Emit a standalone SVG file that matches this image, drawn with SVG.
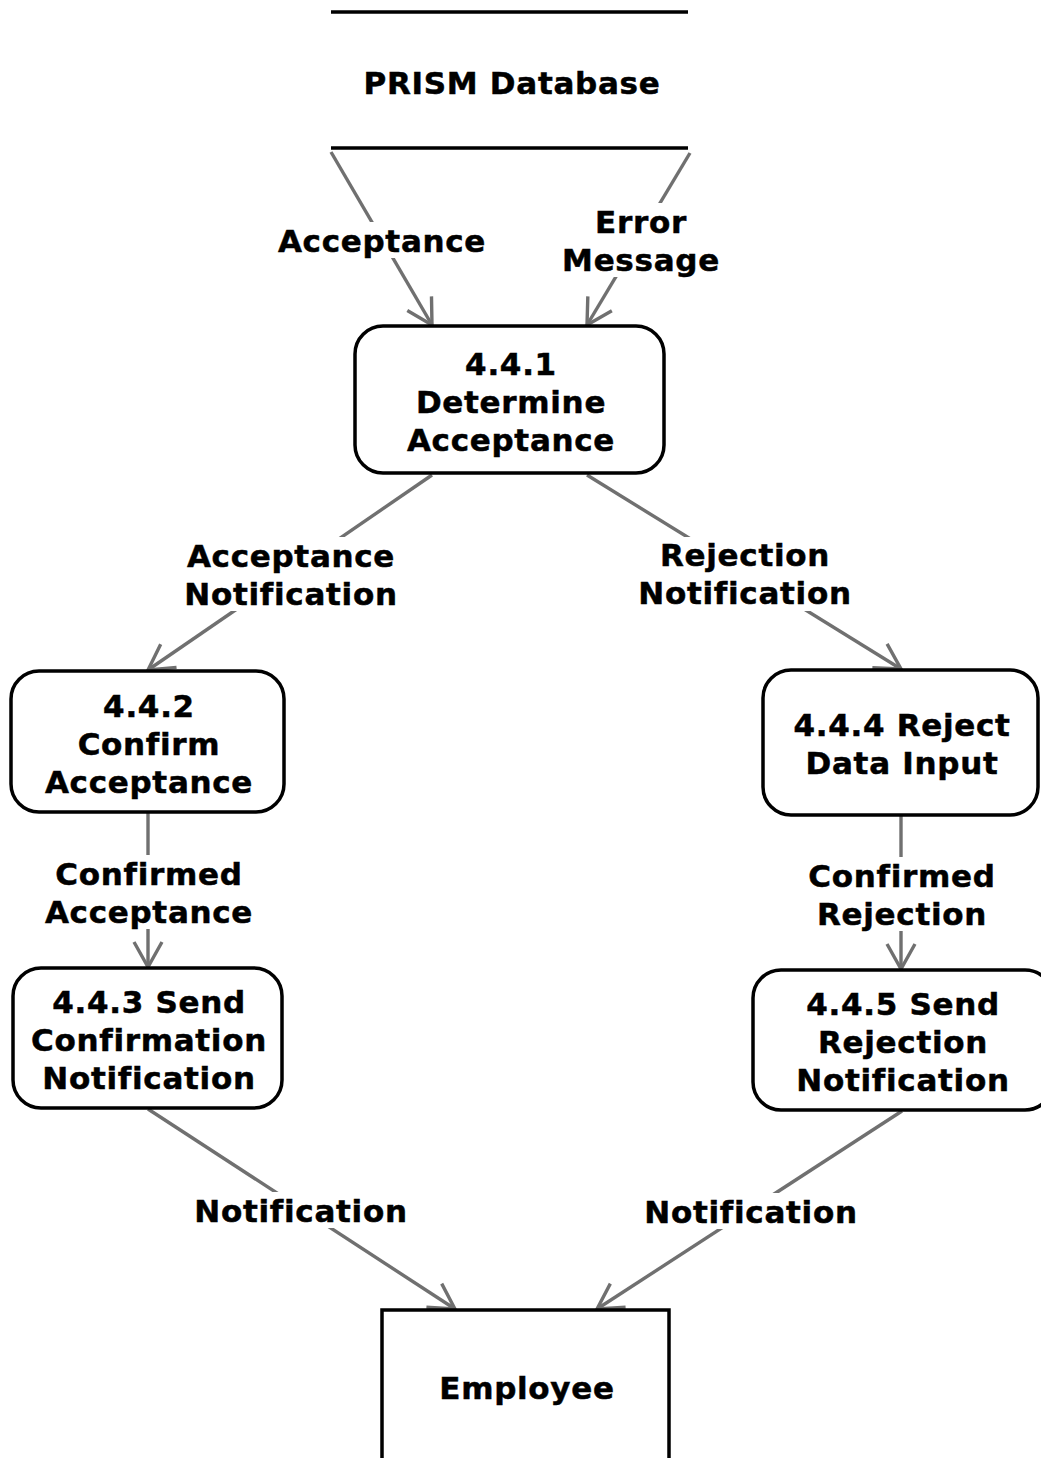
<svg xmlns="http://www.w3.org/2000/svg" width="1041" height="1458" viewBox="0 0 1041 1458">
  <style>
    text { font-family: "DejaVu Sans", Verdana, sans-serif; font-weight: bold; font-size: 31px; letter-spacing: 0.7px; text-anchor: middle; fill: #000; stroke: #000; stroke-width: 0.5px; }
    .box { fill: #fff; stroke: #000; stroke-width: 3.5; }
    .edge { fill: none; stroke: #707070; stroke-width: 3.4; marker-end: url(#arrow); }
    .gap { fill: #fff; }
  </style>
  <defs>
    <marker id="arrow" markerUnits="userSpaceOnUse" markerWidth="44" markerHeight="44" viewBox="-34 -22 44 44" refX="0" refY="0" orient="auto">
      <path d="M -25 -14 L 0 0 L -25 14" fill="none" stroke="#707070" stroke-width="3.4"/>
    </marker>
  </defs>

  <rect width="1041" height="1458" fill="#fff"/>

  <!-- connectors -->
  <g id="connectors">
    <line class="edge" x1="331" y1="152" x2="432" y2="325"/>
    <line class="edge" x1="690" y1="153" x2="587" y2="325"/>
    <line class="edge" x1="432" y1="475" x2="148" y2="670"/>
    <line class="edge" x1="587" y1="475" x2="901" y2="669"/>
    <line class="edge" x1="148" y1="813" x2="148" y2="967"/>
    <line class="edge" x1="901" y1="816" x2="901" y2="969"/>
    <line class="edge" x1="148" y1="1109" x2="455" y2="1309"/>
    <line class="edge" x1="902" y1="1111" x2="597" y2="1309"/>

    <!-- label backgrounds interrupt the lines -->
    <rect class="gap" x="275" y="222" width="214" height="36"/>
    <rect class="gap" x="560" y="203" width="160" height="74"/>
    <rect class="gap" x="182" y="537" width="218" height="74"/>
    <rect class="gap" x="636" y="537" width="218" height="74"/>
    <rect class="gap" x="40" y="855" width="216" height="74"/>
    <rect class="gap" x="803" y="857" width="196" height="74"/>
    <rect class="gap" x="192" y="1192" width="218" height="36"/>
    <rect class="gap" x="641" y="1193" width="218" height="36"/>

    <text x="382" y="252">Acceptance</text>
    <text x="641" y="233">Error</text>
    <text x="641" y="271">Message</text>
    <text x="291" y="567">Acceptance</text>
    <text x="291" y="605">Notification</text>
    <text x="745" y="566">Rejection</text>
    <text x="745" y="604">Notification</text>
    <text x="149" y="885">Confirmed</text>
    <text x="149" y="923">Acceptance</text>
    <text x="902" y="887">Confirmed</text>
    <text x="902" y="925">Rejection</text>
    <text x="301" y="1222">Notification</text>
    <text x="751" y="1223">Notification</text>
  </g>

  <!-- data store -->
  <g id="prism-database">
    <line x1="331" y1="12" x2="688" y2="12" stroke="#000" stroke-width="3.5"/>
    <line x1="331" y1="148" x2="688" y2="148" stroke="#000" stroke-width="3.5"/>
    <text x="512" y="94">PRISM Database</text>
  </g>

  <g id="p441">
    <rect class="box" x="355" y="326" width="309" height="147" rx="28"/>
    <text x="511" y="375">4.4.1</text>
    <text x="511" y="413">Determine</text>
    <text x="511" y="451">Acceptance</text>
  </g>

  <g id="p442">
    <rect class="box" x="11" y="671" width="273" height="141" rx="28"/>
    <text x="149" y="717">4.4.2</text>
    <text x="149" y="755">Confirm</text>
    <text x="149" y="793">Acceptance</text>
  </g>

  <g id="p444">
    <rect class="box" x="763" y="670" width="275" height="145" rx="28"/>
    <text x="902" y="736">4.4.4 Reject</text>
    <text x="902" y="774">Data Input</text>
  </g>

  <g id="p443">
    <rect class="box" x="13" y="968" width="269" height="140" rx="28"/>
    <text x="149" y="1013">4.4.3 Send</text>
    <text x="149" y="1051">Confirmation</text>
    <text x="149" y="1089">Notification</text>
  </g>

  <g id="p445">
    <rect class="box" x="753" y="970" width="300" height="140" rx="28"/>
    <text x="903" y="1015">4.4.5 Send</text>
    <text x="903" y="1053">Rejection</text>
    <text x="903" y="1091">Notification</text>
  </g>

  <g id="employee">
    <rect class="box" x="382" y="1310" width="287" height="170"/>
    <text x="527" y="1399">Employee</text>
  </g>
</svg>
